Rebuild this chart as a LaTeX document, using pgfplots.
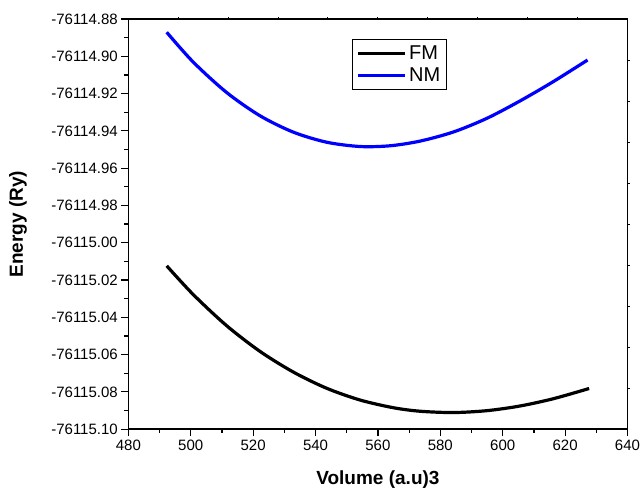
\documentclass[border=0pt]{standalone}
\usepackage{fontspec}
\setmainfont{Liberation Sans}
\usepackage{pgfplots}
\pgfplotsset{compat=1.18}
\usetikzlibrary{calc}

% energies stored as E + 76114 (Ry); tick labels carry the full value
\pgfplotstableread{
V      E
492.3  -1.0124
500.8  -1.0278
511.5  -1.0445
522.2  -1.0583
532.9  -1.0694
543.6  -1.0781
554.3  -1.0844
564.9  -1.0885
573.5  -1.0904
584.2  -1.0911
594.9  -1.0901
605.5  -1.0876
616.2  -1.0837
627.7  -1.0782
}\fm
\pgfplotstableread{
V      E
492.3  -0.8871
500.8  -0.9031
511.5  -0.9194
522.2  -0.9319
532.9  -0.9407
543.6  -0.9461
554.3  -0.9484
563.9  -0.9480
573.5  -0.9455
584.2  -0.9406
594.9  -0.9333
605.5  -0.9240
616.2  -0.9136
627.2  -0.9020
}\nm

\begin{document}
\begin{tikzpicture}
  \begin{axis}[name=ax, scale only axis, width=499pt, height=410pt,
    xmin=480, xmax=640, ymin=-1.10, ymax=-0.88,
    xtick={480,500,520,540,560,580,600,620,640}, minor x tick num=1,
    ytick={-1.10,-1.08,-1.06,-1.04,-1.02,-1.00,-0.98,-0.96,-0.94,-0.92,-0.90,-0.88},
    yticklabels={-76115.10,-76115.08,-76115.06,-76115.04,-76115.02,-76115.00,
      -76114.98,-76114.96,-76114.94,-76114.92,-76114.90,-76114.88},
    minor y tick num=1,
    tick align=outside, tick pos=left,
    major tick length=7pt, minor tick length=4pt,
    tick style={black, line width=1.2pt},
    axis line style={line width=1.5pt},
    ticklabel style={font=\fontsize{15}{18}\selectfont},
    /pgf/number format/assume math mode=true,
    xlabel={\textbf{Volume (a.u)3}}, ylabel={\textbf{Energy (Ry)}},
    label style={font=\bfseries\fontsize{19}{22}\selectfont},
    xlabel style={at={(axis description cs:0.5,-0.124)}, anchor=center},
    ylabel style={at={(axis description cs:-0.221,0.5)}, anchor=center},
    legend style={at={(axis description cs:0.449,0.951)}, anchor=north west,
      draw=black, line width=0.8pt, font=\fontsize{20}{22}\selectfont,
      inner xsep=4pt, inner ysep=4pt, row sep=3pt},
    legend image code/.code={\draw[#1] (0pt,0pt) -- (47pt,0pt);},
    legend cell align=left]
    \addplot[black, line width=3.2pt, smooth] table[x=V, y=E] {\fm};
    \addlegendentry{FM}
    \addplot[blue, line width=3.2pt, smooth] table[x=V, y=E] {\nm};
    \addlegendentry{NM}
  \end{axis}
  % top and right edges of the frame, filled as thin bars, with short outer ticks
  \fill[black] ($(ax.north west)+(-0.8pt,-0.8pt)$) rectangle ($(ax.north east)+(0.8pt,0.8pt)$);
  \fill[black] ($(ax.south east)+(-0.8pt,-0.8pt)$) rectangle ($(ax.north east)+(0.8pt,0.8pt)$);
  \foreach \i in {1,...,9} {
    \draw[black, line width=1pt] ($(ax.north west)!\i/10!(ax.north east)$) -- ++(0,2.5pt);
    \draw[black, line width=1pt] ($(ax.south east)!\i/10!(ax.north east)$) -- ++(2.5pt,0);
  }
  \pgfresetboundingbox
  \path[use as bounding box] ($(ax.south west)+(-128.3pt,-61pt)$) rectangle ($(ax.north east)+(13.5pt,19pt)$);
\end{tikzpicture}
\end{document}
